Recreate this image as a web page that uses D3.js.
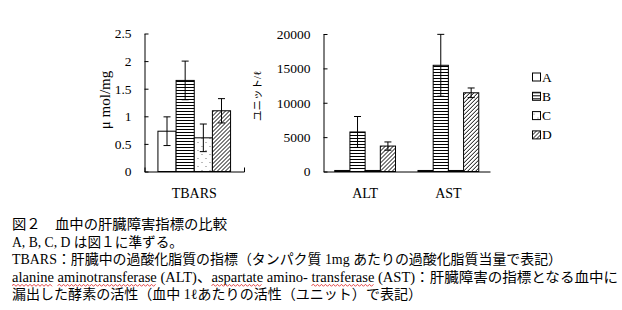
<!DOCTYPE html>
<html>
<head>
<meta charset="utf-8">
<script src="https://cdn.jsdelivr.net/npm/d3@7"></script>
<style>
  html, body { margin: 0; padding: 0; background: #fff; }
  svg { display: block; }
  text { font-family: "Liberation Serif", "Noto Sans CJK JP", serif; fill: #000; }
</style>
</head>
<body>
<svg id="chart" width="622" height="310"></svg>
<script>
// ---- data ----
const seriesNames = ["A", "B", "C", "D"];
const tbarsCategories = ["TBARS"];
const tbarsMean = [0.73, 1.65, 0.61, 1.10];
const tbarsErr  = [0.26, 0.35, 0.25, 0.22];
const tbarsTicks = [0, 0.5, 1, 1.5, 2, 2.5];
const tbarsTickLabels = ["0", "0.5", "1", "1.5", "2", "2.5"];

const enzymeCategories = ["ALT", "AST"];
const altMean = [150, 5750, 150, 3700];
const altErr  = [0, 2250, 0, 600];
const astMean = [150, 15450, 150, 11450];
const astErr  = [0, 4500, 0, 700];
const enzymeTicks = [0, 5000, 10000, 15000, 20000];

const captionLines = [
  "図２　血中の肝臓障害指標の比較",
  "A, B, C, D は図１に準ずる。",
  "TBARS：肝臓中の過酸化脂質の指標（タンパク質 1mg あたりの過酸化脂質当量で表記）",
  "alanine aminotransferase (ALT)、aspartate amino- transferase (AST)：肝臓障害の指標となる血中に",
  "漏出した酵素の活性（血中 1ℓあたりの活性（ユニット）で表記）"
];
const spellWords = ["alanine", "aminotransferase", "aspartate", "transferase"];

// ---- setup ----
const svg = d3.select("#chart");
const defs = svg.append("defs");

// patterns
const pB = defs.append("pattern").attr("id", "pB").attr("patternUnits", "userSpaceOnUse")
  .attr("width", 6).attr("height", 3);
pB.append("rect").attr("width", 6).attr("height", 3).attr("fill", "#fff");
pB.append("line").attr("x1", 0).attr("x2", 6).attr("y1", 0.5).attr("y2", 0.5)
  .attr("stroke", "#000").attr("stroke-width", 1);

const pC = defs.append("pattern").attr("id", "pC").attr("patternUnits", "userSpaceOnUse")
  .attr("width", 8).attr("height", 8);
pC.append("rect").attr("width", 8).attr("height", 8).attr("fill", "#fff");
pC.append("rect").attr("x", 1).attr("y", 2).attr("width", 1).attr("height", 1).attr("fill", "#777");
pC.append("rect").attr("x", 5).attr("y", 6).attr("width", 1).attr("height", 1).attr("fill", "#777");

const pD = defs.append("pattern").attr("id", "pD").attr("patternUnits", "userSpaceOnUse")
  .attr("width", 4).attr("height", 4);
pD.append("rect").attr("width", 4).attr("height", 4).attr("fill", "#fff");
pD.append("path").attr("d", "M-1,1 L1,-1 M0,4 L4,0 M3,5 L5,3")
  .attr("stroke", "#000").attr("stroke-width", 1);

const fills = ["#fff", "url(#pB)", "url(#pC)", "url(#pD)"];

function drawPanel(opts) {
  const { x0, x1, y0, y1, domainMax, ticks, tickFormat, categories, means, errs, outerTick, ylabel, ylabelX, ylabelY, ylabelSize } = opts;
  const g = svg.append("g");
  const y = d3.scaleLinear().domain([0, domainMax]).range([y0, y1]);
  const xc = d3.scaleBand().domain(categories).range([x0, x1]).paddingInner(0).paddingOuter(0);
  const xs = d3.scaleBand().domain(seriesNames)
    .range([xc.bandwidth() * 0.135, xc.bandwidth() * 0.865]).padding(0);

  // bars
  categories.forEach((cat, ci) => {
    const gc = g.append("g").attr("transform", `translate(${xc(cat)},0)`);
    seriesNames.forEach((s, si) => {
      const v = means[ci][si];
      gc.append("rect")
        .attr("x", xs(s)).attr("width", xs.bandwidth())
        .attr("y", y(v)).attr("height", y(0) - y(v))
        .attr("fill", fills[si]).attr("stroke", "#000").attr("stroke-width", 1);
    });
    seriesNames.forEach((s, si) => {
      const v = means[ci][si], e = errs[ci][si];
      if (!e) return;
      const cx = xs(s) + xs.bandwidth() / 2;
      gc.append("line").attr("x1", cx).attr("x2", cx).attr("y1", y(v + e)).attr("y2", y(v - e))
        .attr("stroke", "#000").attr("stroke-width", 1);
      [v + e, v - e].forEach(t => {
        gc.append("line").attr("x1", cx - 3.5).attr("x2", cx + 3.5).attr("y1", y(t)).attr("y2", y(t))
          .attr("stroke", "#000").attr("stroke-width", 1);
      });
    });
  });

  // y axis
  const ya = g.append("g").attr("transform", `translate(${x0},0)`)
    .call(d3.axisLeft(y).tickValues(ticks).tickFormat(tickFormat)
      .tickSizeInner(-4).tickSizeOuter(0).tickPadding(13));
  ya.selectAll("path, line").attr("stroke", "#000").attr("stroke-width", 1);
  ya.selectAll("text").attr("font-size", 13.5).attr("font-family", "Liberation Serif, serif");

  // x axis
  const xa = g.append("g").attr("transform", `translate(0,${y0})`)
    .call(d3.axisBottom(xc).tickSizeInner(0).tickSizeOuter(outerTick).tickPadding(17));
  xa.selectAll("path").attr("stroke", "#000").attr("stroke-width", 1);
  xa.selectAll("text").attr("font-size", 14).attr("font-family", "Liberation Serif, serif");

  // y label
  g.append("text")
    .attr("transform", `translate(${ylabelX},${ylabelY}) rotate(-90)`)
    .attr("text-anchor", "middle").attr("dominant-baseline", "central")
    .attr("font-size", ylabelSize)
    .text(ylabel);
}

drawPanel({
  x0: 144.5, x1: 244, y0: 171.5, y1: 33.5, domainMax: 2.5,
  ticks: tbarsTicks, tickFormat: (d, i) => tbarsTickLabels[i],
  categories: tbarsCategories, means: [tbarsMean], errs: [tbarsErr],
  outerTick: -4, ylabel: "μ mol/mg", ylabelX: 105, ylabelY: 100, ylabelSize: 15
});

drawPanel({
  x0: 323.5, x1: 490, y0: 171.5, y1: 34, domainMax: 20000,
  ticks: enzymeTicks, tickFormat: d3.format("d"),
  categories: enzymeCategories, means: [altMean, astMean], errs: [altErr, astErr],
  outerTick: 0, ylabel: "ユニット/ℓ", ylabelX: 257, ylabelY: 96, ylabelSize: 10.5
});

// legend
const lg = svg.append("g").attr("transform", "translate(532.5,73)");
seriesNames.forEach((s, i) => {
  const row = lg.append("g").attr("transform", `translate(0,${i * 19.3})`);
  row.append("rect").attr("width", 8).attr("height", 8)
    .attr("fill", fills[i]).attr("stroke", "#000").attr("stroke-width", 1);
  row.append("text").attr("x", 9.5).attr("y", 8.5).attr("font-size", 13.5)
    .attr("font-family", "Liberation Serif, serif").text(s);
});

// caption
const capBaselines = [229, 246.5, 264, 281.5, 299];
const capWidths = [215, 171, 550, 606, 410];
const capX = 12;
captionLines.forEach((line, i) => {
  const t = svg.append("text").attr("x", capX).attr("y", capBaselines[i])
    .attr("font-size", 14).text(line);
  const natural = t.node().getComputedTextLength();
  const factor = capWidths[i] / natural;
  if (i === 3) {
    let from = 0;
    spellWords.forEach(w => {
      const idx = line.indexOf(w, from);
      from = idx + w.length;
      const start = t.node().getSubStringLength(0, idx);
      const len = t.node().getSubStringLength(idx, w.length);
      const xa = capX + start * factor, xb = xa + len * factor;
      const yy = capBaselines[i] + 4;
      let d = `M${xa},${yy}`;
      let k = 0;
      for (let xx = xa + 2; xx <= xb; xx += 2) {
        k++;
        d += ` L${xx},${yy + (k % 2 ? -1.2 : 0.8)}`;
      }
      svg.append("path").attr("d", d).attr("fill", "none")
        .attr("stroke", "#e03030").attr("stroke-width", 0.9);
    });
  }
  t.attr("textLength", capWidths[i]).attr("lengthAdjust", "spacingAndGlyphs");
});
</script>
</body>
</html>
